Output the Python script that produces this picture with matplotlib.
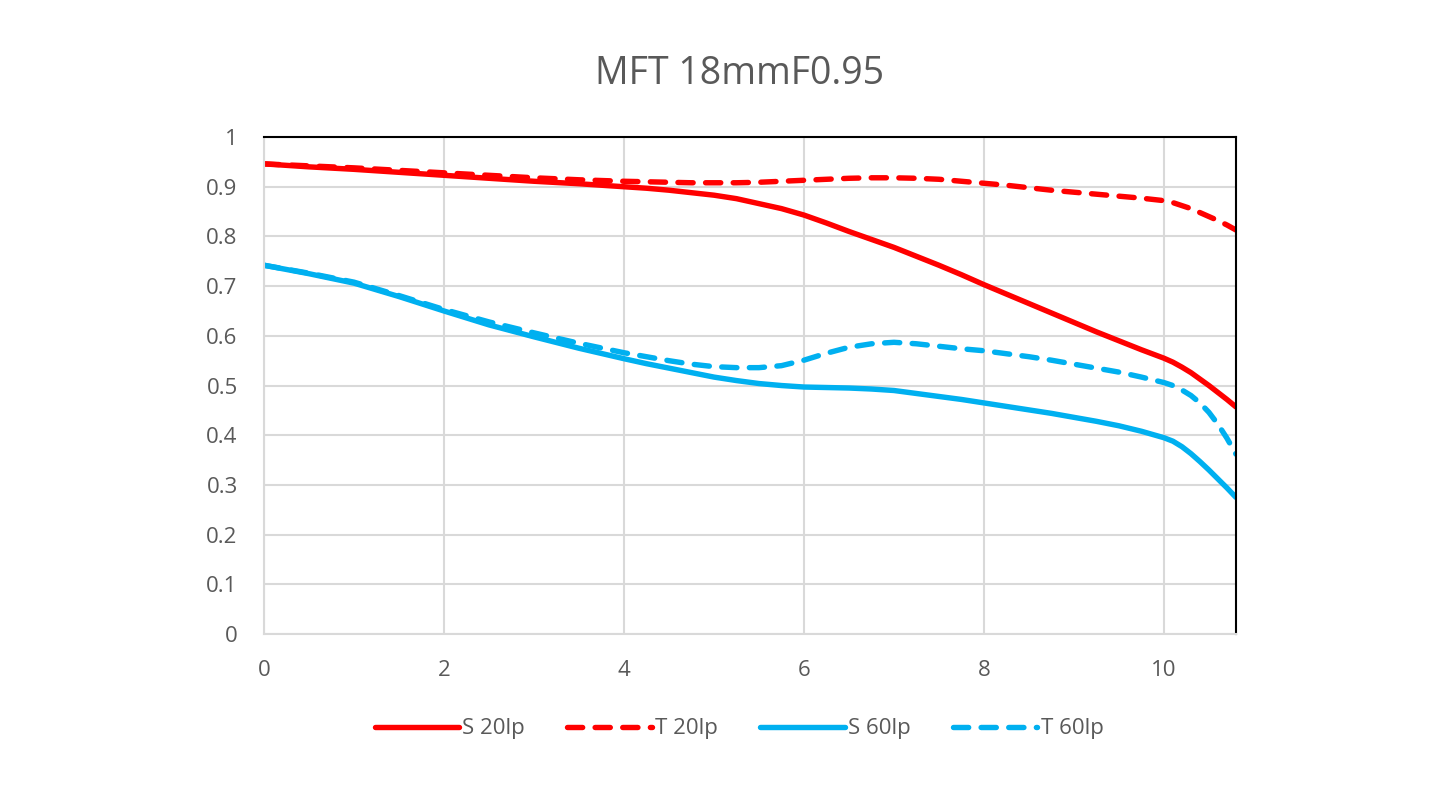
import matplotlib

matplotlib.use("Agg")
import matplotlib.pyplot as plt

# image height (mm) and MTF values
x_pos = [0, 0.5, 1, 1.5, 2, 2.5, 3, 3.5, 4,
         4.25, 4.5, 4.75, 5, 5.25, 5.5, 5.75, 6, 6.25, 6.5, 6.75, 7, 7.25,
         7.5, 7.75, 8, 8.25, 8.5, 8.75, 9, 9.25, 9.5, 9.75, 10,
         10.1, 10.2, 10.3, 10.4, 10.5, 10.6, 10.7, 10.8]
s20 = [0.946, 0.940, 0.935, 0.929, 0.923, 0.917, 0.911, 0.906, 0.900,
       0.897, 0.893, 0.888, 0.883, 0.876, 0.866, 0.856, 0.843, 0.827, 0.810,
       0.794, 0.778, 0.760, 0.742, 0.723, 0.703, 0.684, 0.665, 0.646, 0.627,
       0.608, 0.590, 0.572, 0.555,
       0.547, 0.537, 0.526, 0.513, 0.500, 0.486, 0.472, 0.457]
t20 = [0.946, 0.942, 0.938, 0.933, 0.928, 0.923, 0.918, 0.914, 0.911,
       0.910, 0.909, 0.908, 0.908, 0.908, 0.909, 0.911, 0.913, 0.915, 0.917,
       0.918, 0.918, 0.917, 0.915, 0.911, 0.907, 0.903, 0.898, 0.893, 0.889,
       0.885, 0.881, 0.877, 0.872,
       0.868, 0.862, 0.856, 0.848, 0.840, 0.832, 0.823, 0.813]
s60 = [0.742, 0.725, 0.706, 0.679, 0.650, 0.622, 0.598, 0.575, 0.554,
       0.544, 0.535, 0.526, 0.517, 0.510, 0.504, 0.500, 0.497, 0.496, 0.495,
       0.493, 0.490, 0.484, 0.478, 0.472, 0.465, 0.458, 0.451, 0.444, 0.436,
       0.428, 0.419, 0.408, 0.395,
       0.388, 0.377, 0.363, 0.347, 0.330, 0.312, 0.294, 0.275]
t60 = [0.742, 0.726, 0.708, 0.681, 0.653, 0.628, 0.606, 0.585, 0.566,
       0.558, 0.550, 0.543, 0.538, 0.536, 0.536, 0.540, 0.551, 0.565, 0.577,
       0.584, 0.587, 0.584, 0.579, 0.574, 0.570, 0.564, 0.558, 0.551, 0.543,
       0.535, 0.527, 0.517, 0.506,
       0.500, 0.491, 0.480, 0.465, 0.446, 0.422, 0.394, 0.362]

labels = ["S 20lp", "T 20lp", "S 60lp", "T 60lp"]
title = "MFT 18mmF0.95"
x_ticks = [0, 2, 4, 6, 8, 10]
y_ticks = [0, 0.1, 0.2, 0.3, 0.4, 0.5, 0.6, 0.7, 0.8, 0.9, 1]
y_tick_labels = ["0", "0.1", "0.2", "0.3", "0.4", "0.5", "0.6", "0.7", "0.8", "0.9", "1"]

RED = "#ff0000"
BLUE = "#00b0f0"
GREY_TXT = "#595959"
GRID = "#d9d9d9"

plt.rcParams["font.family"] = ["Open Sans", "DejaVu Sans"]

fig = plt.figure(figsize=(14.42, 8.08), dpi=100)
ax = fig.add_axes([0.1831, 0.2153, 0.8571 - 0.1831, 0.8304 - 0.2153])

lw = 3.9
dash = (2.8, 2.3)
ax.plot(x_pos, s20, color=RED, lw=lw, label=labels[0], solid_capstyle="round")
ax.plot(x_pos, t20, color=RED, lw=lw, ls=(0, dash), dash_capstyle="round", label=labels[1])
ax.plot(x_pos, s60, color=BLUE, lw=lw, label=labels[2], solid_capstyle="round")
ax.plot(x_pos, t60, color=BLUE, lw=lw, ls=(0, dash), dash_capstyle="round", label=labels[3])

ax.set_xlim(0, 10.8)
ax.set_ylim(0, 1)
ax.set_xticks(x_ticks)
ax.set_yticks(y_ticks)
ax.set_yticklabels(y_tick_labels)
ax.grid(True, color=GRID, lw=1.5)
ax.set_axisbelow(True)
ax.tick_params(length=0, labelsize=16, labelcolor=GREY_TXT, pad=19)
for side in ("left", "bottom"):
    ax.spines[side].set_color(GRID)
    ax.spines[side].set_linewidth(1.5)
for side in ("top", "right"):
    ax.spines[side].set_color("black")
    ax.spines[side].set_linewidth(1.5)

fig.text(0.5125, 0.909, title, ha="center", va="center", fontsize=27, color=GREY_TXT)

leg = fig.legend(loc="center", bbox_to_anchor=(0.5125, 0.0978), ncol=4, frameon=False,
                 fontsize=16, handlelength=3.8, handletextpad=0.15, columnspacing=1.9)
for t in leg.get_texts():
    t.set_color(GREY_TXT)

fig.savefig("out.png", dpi=100)
